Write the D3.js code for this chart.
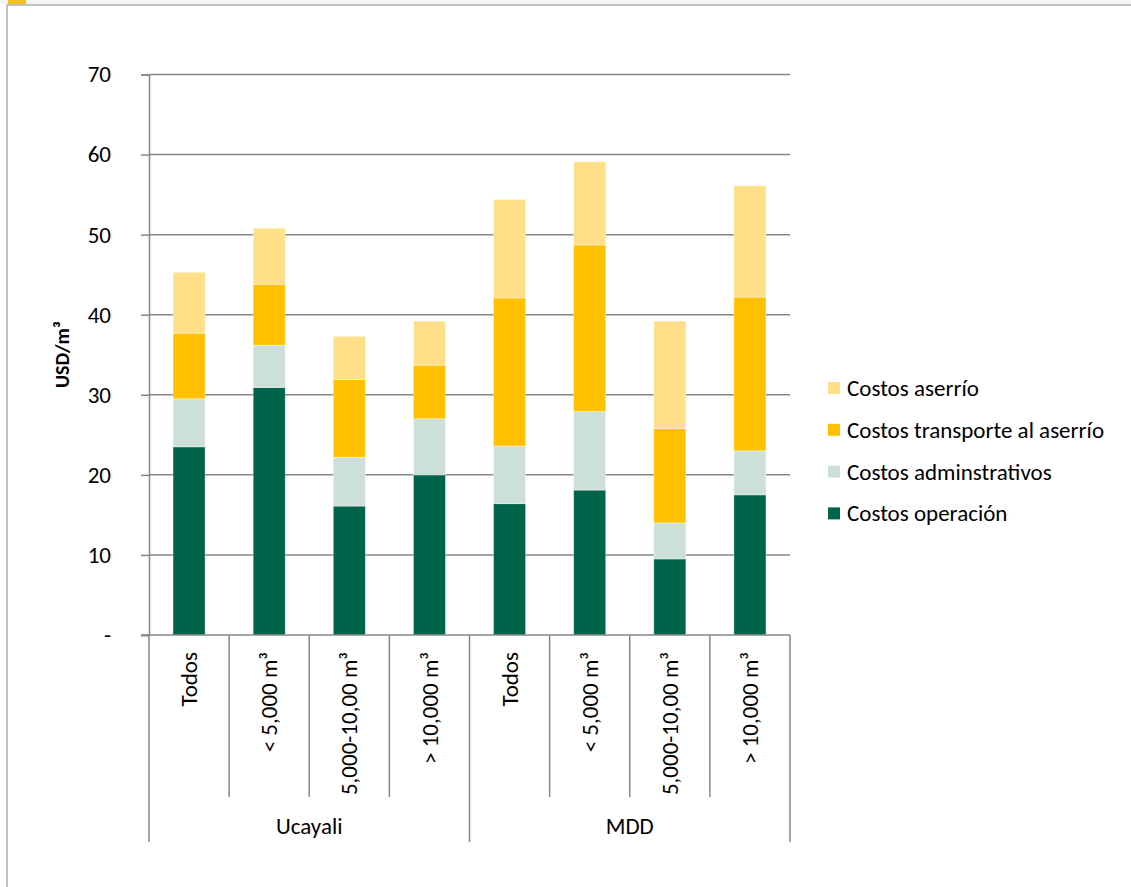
<!DOCTYPE html>
<html>
<head>
<meta charset="utf-8">
<script src="https://cdn.jsdelivr.net/npm/d3@7"></script>
<style>
  html, body { margin: 0; padding: 0; background: #ffffff; }
  svg { display: block; font-family: Carlito, Lato, "Open Sans", sans-serif; }
</style>
</head>
<body>
<svg id="chart" width="1131" height="887"></svg>
<script>
// Categories: region groups and size classes
const groups = ["Ucayali", "MDD"];
const sizeClasses = ["Todos", "< 5,000 m³", "5,000-10,00 m³", "> 10,000 m³"];

// Cost components (USD/m³), one value per bar, in category order
const costosOperacion       = [23.5, 30.9, 16.1, 20.0, 16.4, 18.1,  9.5, 17.5];
const costosAdministrativos = [ 6.0,  5.3,  6.1,  7.0,  7.2,  9.8,  4.5,  5.5];
const costosTransporte      = [ 8.2,  7.6,  9.7,  6.7, 18.5, 20.8, 11.8, 19.2];
const costosAserrio         = [ 7.6,  7.0,  5.4,  5.5, 12.3, 10.4, 13.4, 13.9];

const seriesNames = ["Costos operación", "Costos adminstrativos", "Costos transporte al aserrío", "Costos aserrío"];
const seriesColors = ["#00644a", "#cce0d9", "#ffc000", "#ffdf88"];

const yTicks = [0, 10, 20, 30, 40, 50, 60, 70];
const yTickLabels = ["-", "10", "20", "30", "40", "50", "60", "70"];
const yTitle = "USD/m³";

const fontSize = 23;

// Build a row per bar for the stack layout
const keys = ["op", "adm", "tra", "ase"];
const rows = [];
groups.forEach((g, gi) => {
  sizeClasses.forEach((s, si) => {
    const i = gi * sizeClasses.length + si;
    rows.push({
      id: g + "|" + s, group: g, label: s,
      op: costosOperacion[i], adm: costosAdministrativos[i],
      tra: costosTransporte[i], ase: costosAserrio[i]
    });
  });
});

const svg = d3.select("#chart");

// Outer frame of the chart area
svg.append("rect").attr("x", 0).attr("y", 0).attr("width", 1131).attr("height", 4).attr("fill", "#f4f4f4");
svg.append("rect").attr("x", 8).attr("y", 0).attr("width", 18).attr("height", 4).attr("fill", "#f5c11c");
svg.append("line").attr("x1", 6).attr("x2", 1131).attr("y1", 5).attr("y2", 5)
  .attr("stroke", "#c0c0c0").attr("stroke-width", 2);
svg.append("line").attr("x1", 7).attr("x2", 7).attr("y1", 4).attr("y2", 887)
  .attr("stroke", "#c0c0c0").attr("stroke-width", 2);

const plotLeft = 149, plotRight = 790, plotTop = 74.5, plotBottom = 635;
const axisColor = "#878787";

const x = d3.scaleBand()
  .domain(rows.map(d => d.id))
  .range([plotLeft, plotRight])
  .paddingInner(0.6)
  .paddingOuter(0.3);

const y = d3.scaleLinear().domain([0, 70]).range([plotBottom, plotTop]);

// Y axis with ticks
const yAxis = d3.axisLeft(y)
  .tickValues(yTicks)
  .tickFormat((d, i) => yTickLabels[i])
  .tickSize(8)
  .tickPadding(30);

const gy = svg.append("g").attr("transform", `translate(${plotLeft},0)`).call(yAxis)
  .attr("font-family", null).attr("font-size", null);
gy.select(".domain").attr("stroke", axisColor).attr("stroke-width", 1.5);
gy.selectAll(".tick line").attr("stroke", axisColor).attr("stroke-width", 1.5);
gy.selectAll(".tick text").attr("font-size", fontSize).attr("fill", "#000");

// Horizontal gridlines
svg.append("g").selectAll("line").data(yTicks.filter(d => d > 0)).join("line")
  .attr("x1", plotLeft).attr("x2", plotRight)
  .attr("y1", d => y(d)).attr("y2", d => y(d))
  .attr("stroke", axisColor).attr("stroke-width", 1.5);

// Stacked bars
const stack = d3.stack().keys(keys);
const layers = stack(rows);

svg.append("g").selectAll("g").data(layers).join("g")
  .attr("fill", (d, i) => seriesColors[i])
  .selectAll("rect").data(d => d).join("rect")
  .attr("x", d => x(d.data.id))
  .attr("width", x.bandwidth())
  .attr("y", d => y(d[1]))
  .attr("height", d => y(d[0]) - y(d[1]))
  .attr("stroke", "#ffffff").attr("stroke-opacity", 0.45).attr("stroke-width", 0.8);

// Bottom axis line
svg.append("line").attr("x1", plotLeft - 8).attr("x2", plotRight)
  .attr("y1", plotBottom).attr("y2", plotBottom)
  .attr("stroke", axisColor).attr("stroke-width", 1.5);

// Category dividers (two-level category axis)
const step = x.step();
const n = rows.length;
const dividers = d3.range(n + 1);
svg.append("g").selectAll("line").data(dividers).join("line")
  .attr("x1", i => plotLeft + i * step).attr("x2", i => plotLeft + i * step)
  .attr("y1", plotBottom)
  .attr("y2", i => (i % sizeClasses.length === 0) ? 842 : 797)
  .attr("stroke", axisColor).attr("stroke-width", 1.5);

// Rotated size-class labels
svg.append("g").selectAll("text").data(rows).join("text")
  .attr("transform", d => `translate(${x(d.id) + x.bandwidth() / 2},652) rotate(-90)`)
  .attr("text-anchor", "end")
  .attr("dy", "0.35em")
  .attr("font-size", fontSize)
  .attr("fill", "#000")
  .text(d => d.label);

// Group labels
svg.append("g").selectAll("text").data(groups).join("text")
  .attr("x", (g, gi) => plotLeft + (gi * sizeClasses.length + sizeClasses.length / 2) * step)
  .attr("y", 834)
  .attr("text-anchor", "middle")
  .attr("font-size", fontSize)
  .attr("fill", "#000")
  .text(d => d);

// Y axis title, centred on the plot area
svg.append("text")
  .attr("transform", `translate(62,${(plotTop + plotBottom) / 2}) rotate(-90)`)
  .attr("text-anchor", "middle")
  .attr("dy", "0.35em")
  .attr("font-size", 20)
  .attr("font-weight", "bold")
  .attr("fill", "#000")
  .text(yTitle);

// Legend (top-to-bottom order reverses the stack)
const legendOrder = [3, 2, 1, 0];
const legend = svg.append("g").selectAll("g").data(legendOrder).join("g")
  .attr("transform", (d, i) => `translate(828,${388 + i * 41.8})`);
legend.append("rect").attr("x", 0).attr("y", -6).attr("width", 12).attr("height", 12)
  .attr("fill", d => seriesColors[d]);
legend.append("text").attr("x", 19).attr("dy", "0.35em")
  .attr("font-size", fontSize).attr("fill", "#000")
  .text(d => seriesNames[d]);
</script>
</body>
</html>
